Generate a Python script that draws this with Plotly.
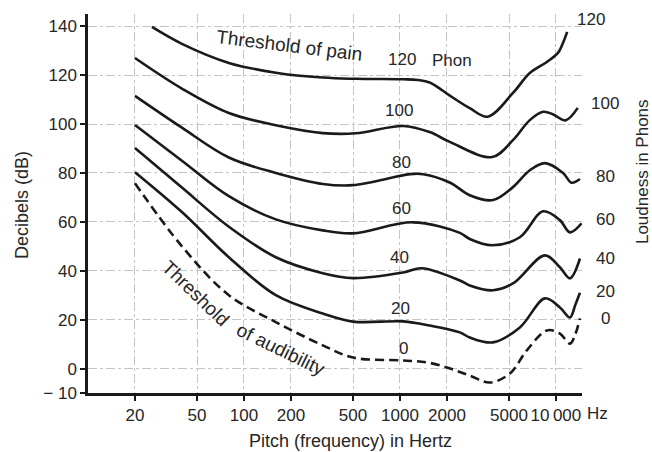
import math
import plotly.graph_objects as go

# Equal-loudness contours: frequency in Hz, sound pressure level in dB
freq_120 = [25.7, 40, 80, 160, 320, 520, 1050, 1300, 1550, 2100, 2800, 3650, 5300, 6800, 8750, 10300, 11100, 11800]
db_120 = [139.7, 132.8, 125, 121, 119, 118.5, 118.3, 118, 117, 111.5, 106.5, 103, 112.7, 120.9, 125.4, 129.1, 133.2, 137.7]

freq_100 = [20, 40, 80, 160, 320, 520, 1050, 1550, 2100, 3900, 5300, 6800, 8300, 9550, 11500, 13800]
db_100 = [127, 114.5, 104.5, 99.5, 96.3, 96.2, 99.2, 96.7, 92.6, 86.5, 93.4, 101.6, 105, 104, 101.5, 106.6]

freq_80 = [20, 40, 80, 160, 320, 500, 1160, 1410, 2100, 2800, 3950, 5300, 6800, 8500, 11100, 12600, 14250]
db_80 = [111.5, 98.5, 86.3, 80, 75.5, 75, 79.5, 79.5, 76, 70.9, 68.9, 74.2, 81.1, 84, 80, 76, 77.5]

freq_60 = [20, 40, 80, 160, 320, 500, 1210, 2420, 2800, 3900, 5870, 8250, 10600, 12300, 14600]
db_60 = [99.6, 85, 70.5, 61, 56.5, 55.3, 59.8, 55.5, 53, 50.4, 53.7, 64.3, 60.7, 55.7, 59.4]

freq_40 = [20, 40, 80, 160, 320, 500, 1050, 1380, 2420, 2800, 3950, 5300, 8500, 10600, 12300, 14250]
db_40 = [90.2, 74, 58, 45.5, 39, 37, 39.3, 41, 36, 34, 32, 34.8, 46.3, 41.4, 36.9, 45]

freq_20 = [20, 40, 80, 160, 320, 500, 1050, 1550, 2420, 2800, 3950, 5870, 8500, 10600, 12300, 13300, 14250]
db_20 = [80.3, 64, 45.5, 30, 22.5, 19.2, 19.3, 17.6, 14.8, 12.7, 10.7, 16.8, 28.7, 25, 20.9, 26, 31]

freq_0 = [20, 40, 80, 160, 320, 500, 1050, 1500, 2100, 2800, 3780, 5070, 6500, 8750, 10600, 12300, 13300, 14250]
db_0 = [75.8, 50, 30, 19, 9.5, 4.5, 3.3, 2.5, 0, -2.9, -5.7, -2, 7.4, 15.6, 14.3, 10.2, 14, 20.5]

# Axis ticks
x_ticks = [20, 50, 100, 200, 500, 1000, 2000, 5000, 10000]
x_tick_text = ["20", "50", "100", "200", "500", "1000", "2000", "5000", "10\u2009000"]
y_ticks = [-10, 0, 20, 40, 60, 80, 100, 120, 140]
y_tick_text = ["\u2212 10", "0", "20", "40", "60", "80", "100", "120", "140"]

# Phon labels in the middle of the chart (frequency, dB, text)
mid_label_freq = [1030, 990, 1030, 1030, 1000, 1010, 1060]
mid_label_db = [126.2, 105.7, 84.4, 65.6, 45.3, 24.6, 8.2]
mid_label_text = ["120", "100", "80", "60", "40", "20", "0"]

# Phon labels beside the curve ends (dB, text)
end_label_db = [142.6, 108.6, 78.7, 61.0, 45.1, 31.6, 20.5]
end_label_text = ["120", "100", "80", "60", "40", "20", "0"]

FONT = "Liberation Sans, Arial, Helvetica, sans-serif"
INK = "#1a1a1a"
TXT = "#262626"

fig = go.Figure()

solid = [(freq_120, db_120), (freq_100, db_100), (freq_80, db_80),
         (freq_60, db_60), (freq_40, db_40), (freq_20, db_20)]
for fx, dy in solid:
    fig.add_trace(go.Scatter(x=fx, y=dy, mode="lines",
                             line=dict(color=INK, width=2.6, shape="spline", smoothing=1.0),
                             hoverinfo="skip", showlegend=False))
fig.add_trace(go.Scatter(x=freq_0, y=db_0, mode="lines",
                         line=dict(color=INK, width=2.6, shape="spline", smoothing=1.0,
                                   dash="9px,5px"),
                         hoverinfo="skip", showlegend=False))


def txt(x, y, s, size=17, angle=0, xref="x", yref="y"):
    return dict(x=x, y=y, xref=xref, yref=yref, text=s, showarrow=False,
                xanchor="center", yanchor="middle", textangle=angle,
                font=dict(family=FONT, size=size, color=TXT))


ann = []
for f, d, t in zip(mid_label_freq, mid_label_db, mid_label_text):
    ann.append(txt(math.log10(f), d, t))
ann.append(txt(math.log10(2150), 125.8, "Phon"))
for d, t in zip(end_label_db, end_label_text):
    xp = 1.018 if t == "120" else 1.047
    ann.append(txt(xp, d, t, xref="paper"))

ann += [
    txt(math.log10(197), 132, "Threshold of pain", size=19, angle=7),
    txt(math.log10(49), 30.5, "Threshold", size=19, angle=44),
    txt(math.log10(173), 7.8, "of audibility", size=19, angle=26),
    txt(1.031, -0.053, "Hz", xref="paper", yref="paper"),
    txt(0.532, -0.127, "Pitch (frequency) in Hertz", size=18, xref="paper", yref="paper"),
    txt(-0.1336, 0.496, "Decibels (dB)", size=18, angle=-90, xref="paper", yref="paper"),
    txt(1.1215, 0.583, "Loudness in Phons", size=17, angle=-90, xref="paper", yref="paper"),
]

fig.update_layout(
    width=652, height=452,
    margin=dict(l=88, r=70, t=14, b=59),
    paper_bgcolor="white", plot_bgcolor="white",
    annotations=ann,
    xaxis=dict(type="log", range=[1, 4.167], tickvals=x_ticks, ticktext=x_tick_text,
               tickangle=0, automargin=False,
               showline=True, linecolor=INK, linewidth=2.5,
               ticks="outside", ticklen=5, tickcolor=INK, tickwidth=1.5,
               showgrid=True, gridcolor="#c4c4c4", gridwidth=1, griddash="dashdot",
               zeroline=False, tickfont=dict(family=FONT, size=17, color=TXT)),
    yaxis=dict(range=[-10, 145], tickvals=y_ticks, ticktext=y_tick_text,
               automargin=False,
               showline=True, linecolor=INK, linewidth=2.5,
               ticks="outside", ticklen=5, tickcolor=INK, tickwidth=1.5,
               showgrid=True, gridcolor="#c4c4c4", gridwidth=1, griddash="dashdot",
               zeroline=False, tickfont=dict(family=FONT, size=17, color=TXT)),
)

fig.write_html("out.html")
